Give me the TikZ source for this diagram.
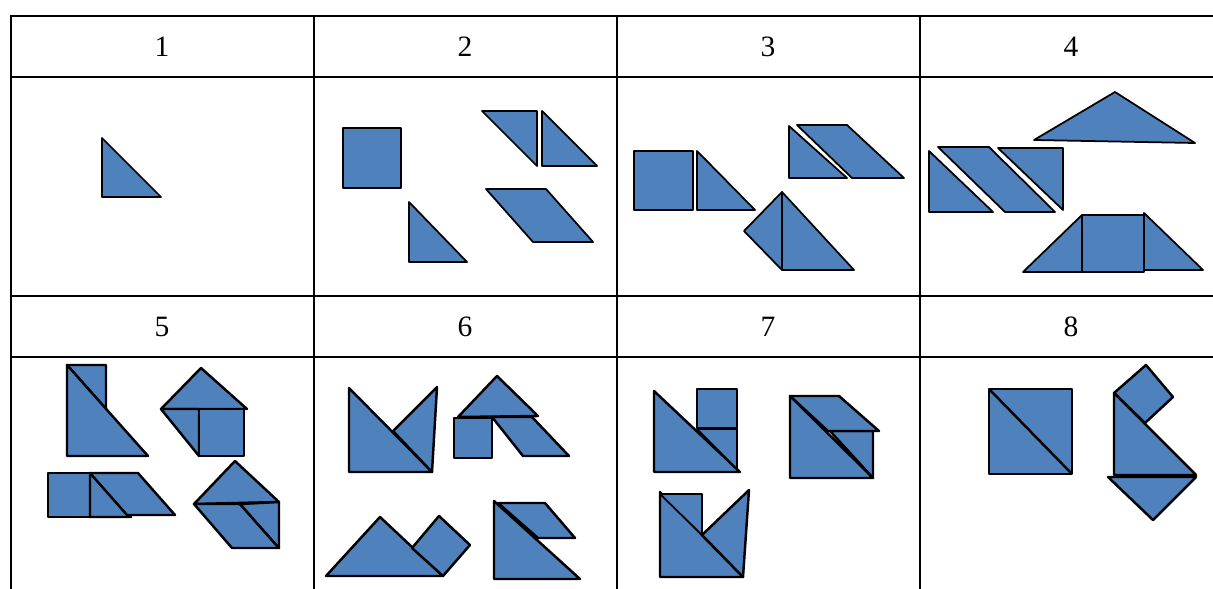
\documentclass[tikz,border=0pt]{standalone}
\usepackage{fontspec}
\setmainfont{Liberation Serif}
\usepackage{tikz}
\definecolor{tanblue}{RGB}{79,129,189}
\tikzset{
  gridline/.style={line width=1.2pt, line cap=rect},
  numlabel/.style={font=\fontsize{16.8}{20}\selectfont, inner sep=0pt},
  piece/.style={fill=tanblue, draw=black, line width=1pt, line join=round},
  thickpiece/.style={piece, line width=1.4pt}
}

\begin{document}
\begin{tikzpicture}[x=0.02cm, y=-0.02cm]
  \useasboundingbox (0,0) rectangle (1213,588);
  % table
  \foreach \y in {16,77,296,357}
    \draw[gridline] (11,\y) -- (1213,\y);
  \foreach \x in {11,314,617,920}
    \draw[gridline] (\x,16) -- (\x,588);
  \foreach \n/\x in {1/162,2/465,3/768,4/1071}
    \node[numlabel] (h\n) at (\x,46.5) {\n};
  \foreach \n/\x in {5/162,6/465,7/768,8/1071}
    \node[numlabel] (h\n) at (\x,326.5) {\n};

  % 1
  \draw[piece] (102,138) -- (102,197) -- (161,197) -- cycle;

  % 2
  \draw[piece] (343,128) rectangle (401,188);
  \draw[piece] (409,202) -- (409,262) -- (467,262) -- cycle;
  \draw[piece] (482,111) -- (537,111) -- (537,166) -- cycle;
  \draw[piece] (542,111) -- (542,166) -- (597,166) -- cycle;
  \draw[piece] (486,189) -- (546,189) -- (593,242) -- (533,242) -- cycle;

  % 3
  \draw[piece] (634,151) rectangle (693,210);
  \draw[piece] (697,151) -- (697,210) -- (755,210) -- cycle;
  \draw[piece] (789,126) -- (789,178) -- (847,178) -- cycle;
  \draw[piece] (797,125) -- (847,125) -- (904,178) -- (852,178) -- cycle;
  \draw[piece] (782,192) -- (744,231) -- (782,270) -- cycle;
  \draw[piece] (782,192) -- (782,270) -- (854,270) -- cycle;

  % 4
  \draw[piece] (1115,92) -- (1034,140) -- (1195,143) -- cycle;
  \draw[piece] (929,151) -- (929,212) -- (993,212) -- cycle;
  \draw[piece] (938,147) -- (989,147) -- (1055,212) -- (1005,212) -- cycle;
  \draw[piece] (998,148) -- (1063,148) -- (1063,210) -- cycle;
  \draw[piece] (1023,272) -- (1082,215) -- (1082,272) -- cycle;
  \draw[piece] (1082,215) rectangle (1144,272);
  \draw[piece] (1144,213) -- (1144,270) -- (1203,270) -- cycle;

  % 5
  \draw[thickpiece] (67,365) -- (106,365) -- (106,409) -- cycle;
  \draw[thickpiece] (67,365) -- (67,456) -- (148,456) -- cycle;
  \draw[thickpiece] (201,368) -- (161,409) -- (247,409) -- cycle;
  \draw[thickpiece] (161,409) -- (199,409) -- (199,456) -- cycle;
  \draw[thickpiece] (199,409) rectangle (244,456);
  \draw[thickpiece] (48,473) rectangle (90,517);
  \draw[thickpiece] (90,473) -- (90,517) -- (131,517) -- cycle;
  \draw[thickpiece] (90,473) -- (138,473) -- (175,515) -- (127,515) -- cycle;
  \draw[thickpiece] (235,461) -- (194,504) -- (279,502) -- cycle;
  \draw[thickpiece] (194,504) -- (240,504) -- (279,548) -- (232,548) -- cycle;
  \draw[thickpiece] (240,504) -- (279,502) -- (279,548) -- cycle;

  % 6
  \draw[thickpiece] (349,388) -- (349,472) -- (432,472) -- cycle;
  \draw[thickpiece] (393,431) -- (437,387) -- (432,472) -- cycle;
  \draw[thickpiece] (497,376) -- (458,417) -- (538,416) -- cycle;
  \draw[piece] (454,418) rectangle (492,458);
  \draw[thickpiece] (492,417) -- (532,417) -- (569,456) -- (523,456) -- cycle;
  \draw[thickpiece] (326,576) -- (380,517) -- (443,576) -- cycle;
  \draw[thickpiece] (412,548) -- (439,516) -- (470,545) -- (443,576) -- cycle;
  \draw[thickpiece] (498,503) -- (545,503) -- (575,538) -- (538,538) -- cycle;
  \draw[thickpiece] (494,501) -- (494,579) -- (580,579) -- cycle;

  % 7
  \draw[thickpiece] (654,391) -- (654,472) -- (740,472) -- cycle;
  \draw[piece] (697,389) rectangle (737,428);
  \draw[piece] (697,429) -- (737,429) -- (737,469) -- cycle;
  \draw[thickpiece] (790,396) -- (790,478) -- (873,478) -- cycle;
  \draw[thickpiece] (830,431) -- (873,431) -- (873,478) -- cycle;
  \draw[thickpiece] (790,396) -- (839,396) -- (879,431) -- (828,431) -- cycle;
  \draw[thickpiece] (660,492) -- (660,577) -- (743,577) -- cycle;
  \draw[piece] (660,494) -- (702,494) -- (702,535) -- cycle;
  \draw[thickpiece] (702,535) -- (749,490) -- (743,577) -- cycle;

  % 8
  \draw[thickpiece] (989,389) rectangle (1072,474);
  \draw[thickpiece] (989,389) -- (1072,474);
  \draw[thickpiece] (1114,393) -- (1146,365) -- (1173,397) -- (1145,423) -- cycle;
  \draw[thickpiece] (1114,393) -- (1114,475) -- (1196,475) -- cycle;
  \draw[thickpiece] (1108,477) -- (1196,477) -- (1153,520) -- cycle;
\end{tikzpicture}
\end{document}
